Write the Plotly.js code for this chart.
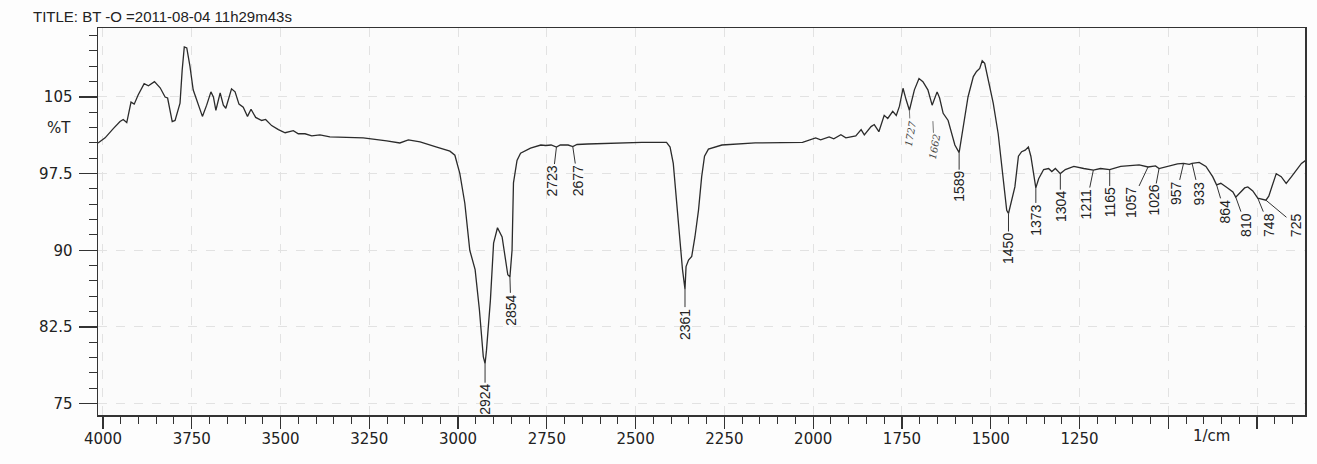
<!DOCTYPE html>
<html>
<head>
<meta charset="utf-8">
<script src="https://cdn.plot.ly/plotly-3.0.1.min.js"></script>
<style>
  html, body { margin: 0; padding: 0; background: #fdfdfd; }
  #chart { width: 1317px; height: 464px; }
</style>
</head>
<body>
<div id="chart"></div>
<script>
// ---- Data ----
const wavenumber = [
  4014, 3994, 3971, 3952, 3943, 3933, 3921, 3912, 3901, 3884, 3872, 3855, 3839, 3825, 3818,
  3805, 3797, 3783, 3777, 3771, 3764, 3755, 3746, 3736, 3720, 3708, 3696, 3689, 3682, 3670,
  3661, 3654, 3638, 3628, 3617, 3605, 3593, 3583, 3570, 3553, 3542, 3525, 3506, 3487, 3464,
  3450, 3431, 3412, 3389, 3361, 3314, 3267, 3201, 3164, 3140, 3107, 3060, 3023, 3009, 2995,
  2981, 2967, 2952, 2940, 2929, 2924, 2920, 2909, 2900, 2889, 2876, 2867, 2860, 2854, 2848,
  2844, 2834, 2824, 2796, 2767, 2753, 2738, 2723, 2712, 2690, 2677, 2665, 2635, 2539, 2483,
  2413, 2403, 2394, 2384, 2375, 2368, 2361, 2358, 2351, 2342, 2333, 2323, 2314, 2306, 2295,
  2257, 2163, 2097, 2030, 1993, 1979, 1955, 1942, 1922, 1908, 1880, 1865, 1856, 1837, 1828,
  1815, 1800, 1790, 1776, 1766, 1757, 1747, 1738, 1729, 1715, 1702, 1691, 1677, 1665, 1651,
  1644, 1634, 1620, 1601, 1589, 1578, 1564, 1549, 1540, 1531, 1524, 1517, 1507, 1493, 1479,
  1465, 1455, 1450, 1432, 1422, 1413, 1403, 1394, 1387, 1380, 1373, 1365, 1351, 1337, 1328,
  1318, 1304, 1290, 1266, 1238, 1211, 1191, 1165, 1134, 1106, 1082, 1057, 1036, 1026, 1002,
  974, 957, 941, 933, 913, 894, 875, 864, 852, 833, 818, 810, 785, 776, 762,
  748, 725, 717, 705, 696, 682, 668, 653, 625, 597
];
const transmittance = [
  100.5, 101.0, 101.9, 102.6, 102.8, 102.5, 104.5, 104.3, 105.2, 106.3, 106.1, 106.5, 105.9, 105.0, 104.9,
  102.6, 102.7, 104.4, 107.6, 109.9, 109.8, 108.0, 105.7, 104.7, 103.1, 104.2, 105.5, 105.0, 103.7, 105.4,
  104.2, 103.9, 105.8, 105.5, 104.3, 104.0, 103.1, 103.8, 103.0, 102.7, 102.8, 102.2, 101.8, 101.5, 101.7,
  101.4, 101.4, 101.2, 101.3, 101.1, 101.05, 101.0, 100.7, 100.5, 100.8, 100.6, 100.1, 99.7, 99.3, 97.5,
  94.6, 90.0, 88.1, 84.2, 79.6, 78.9, 80.2, 85.1, 90.7, 92.2, 91.3, 89.1, 87.6, 87.4, 90.0,
  96.6, 98.8, 99.5, 100.0, 100.3, 100.25, 100.3, 100.1, 100.3, 100.3, 100.15, 100.35, 100.4, 100.5, 100.55,
  100.55, 100.1, 98.5, 94.6, 90.4, 88.1, 86.2, 88.4, 89.05, 89.4, 91.3, 93.9, 97.2, 99.2, 99.9,
  100.3, 100.5, 100.5, 100.55, 101.0, 100.8, 101.1, 100.9, 101.3, 101.0, 101.2, 101.8, 101.3, 102.1, 102.3,
  101.6, 103.2, 102.9, 103.6, 103.2, 104.1, 105.85, 104.7, 103.7, 105.7, 106.8, 106.5, 105.7, 104.2, 105.5,
  104.9, 103.4, 102.7, 100.3, 99.55, 102.1, 105.0, 107.0, 107.5, 107.8, 108.55, 108.3, 106.7, 104.4, 101.4,
  96.9, 93.9, 93.6, 96.2, 99.2, 99.65, 99.8, 100.1, 99.2, 97.8, 96.1, 97.0, 97.9, 98.0, 97.7,
  98.0, 97.5, 97.9, 98.2, 98.0, 97.85, 98.0, 97.9, 98.2, 98.25, 98.35, 98.15, 98.25, 98.0, 98.2,
  98.45, 98.5, 98.4, 98.5, 98.6, 98.2, 97.2, 96.4, 96.55, 96.1, 95.7, 95.2, 96.1, 96.2, 95.8,
  95.1, 94.9, 95.3, 96.7, 97.5, 97.2, 96.55, 97.2, 98.5, 99.2
];

// Printed peak labels (cm^-1)
const peakLabels = [2924, 2854, 2723, 2677, 2361, 1589, 1450, 1373, 1304, 1211,
                    1165, 1057, 1026, 957, 933, 864, 810, 748, 725];
// Hand-written labels
const handLabels = ['1727', '1662'];
const handLabelPositions = [1729, 1665];

// Axis ticks
const xTickVals = [4000, 3750, 3500, 3250, 3000, 2750, 2500, 2250, 2000, 1750, 1500, 1250, 1000, 750];
const xTickText = ['4000', '3750', '3500', '3250', '3000', '2750', '2500', '2250', '2000', '1750', '1500', '1250', '', ''];
const yTickVals = [75, 82.5, 90, 97.5, 105];
const yTickText = ['75', '82.5', '90', '97.5', '105'];

const titleText = 'TITLE: BT -O =2011-08-04 11h29m43s';
const xUnit = '1/cm';
const yUnit = '%T';

// ---- Label layout (pixel offsets of the label text from its peak) ----
const labelOffsets = [
  [0, 36], [1, 33], [-4, 34], [5, 34], [0, 35], [0, 34], [0, 35], [0, 32], [0, 33], [-7, 34],
  [0, 33], [-17, 36], [-6, 32], [-7, 30], [7, 30], [8, 27], [10, 28], [11, 27], [30, 25]
];
const handOffsets = [[1, 23], [2, 42]];

function interpT(w) {
  for (let i = 0; i < wavenumber.length - 1; i++) {
    const a = wavenumber[i], b = wavenumber[i + 1];
    if ((w <= a && w >= b)) {
      const t = (a === b) ? 0 : (a - w) / (a - b);
      return transmittance[i] + t * (transmittance[i + 1] - transmittance[i]);
    }
  }
  return transmittance[transmittance.length - 1];
}

const labelFont = { family: 'Liberation Sans Narrow, Arial Narrow, Liberation Sans, Arial, sans-serif', size: 14, color: '#222' };
const tickFont = { family: 'DejaVu Sans, Verdana, sans-serif', size: 15, color: '#222' };

const annotations = peakLabels.map((w, i) => ({
  x: w, y: interpT(w), xref: 'x', yref: 'y',
  text: String(w), textangle: -90,
  showarrow: true, arrowhead: 0, arrowwidth: 1, arrowcolor: '#333',
  ax: labelOffsets[i][0], ay: labelOffsets[i][1],
  standoff: 0, borderpad: 1,
  font: labelFont
}));

handLabels.forEach((t, i) => {
  annotations.push({
    x: handLabelPositions[i], y: interpT(handLabelPositions[i]), xref: 'x', yref: 'y',
    text: t, textangle: -80,
    showarrow: true, arrowhead: 0, arrowwidth: 0.8, arrowcolor: '#555',
    standoff: i === 1 ? 16 : 0,
    ax: handOffsets[i][0], ay: handOffsets[i][1],
    font: { family: 'DejaVu Serif, serif', size: 10, color: '#444', style: 'italic' }
  });
});

annotations.push({
  xref: 'paper', yref: 'y', x: 0, y: 102, xanchor: 'right', yanchor: 'middle',
  xshift: -25, text: yUnit, showarrow: false, font: tickFont
});
annotations.push({
  xref: 'x', yref: 'paper', x: 877, y: 0, xanchor: 'center', yanchor: 'top',
  yshift: -10, text: xUnit, showarrow: false, font: tickFont
});

const trace = {
  x: wavenumber, y: transmittance, type: 'scatter', mode: 'lines',
  line: { color: '#2b2b2b', width: 1.3, shape: 'linear' },
  hoverinfo: 'x+y'
};

const layout = {
  width: 1317, height: 464,
  margin: { l: 98, r: 12, t: 28, b: 49 },
  paper_bgcolor: '#fdfdfd', plot_bgcolor: '#fbfbfb',
  showlegend: false,
  title: {
    text: titleText, xref: 'container', yref: 'container',
    x: 33 / 1317, xanchor: 'left', y: 1 - 17 / 464, yanchor: 'middle',
    font: { family: 'Liberation Sans, Arial, sans-serif', size: 15, color: '#222' }
  },
  xaxis: {
    range: [4014, 615], tickmode: 'array', tickvals: xTickVals, ticktext: xTickText,
    ticks: 'outside', ticklen: 12, tickwidth: 1.2, tickcolor: '#333', ticklabelstandoff: -3,
    showline: true, linecolor: '#333', linewidth: 1.5, mirror: true,
    showgrid: true, gridcolor: '#e2e2e2', griddash: 'dash', gridwidth: 1,
    zeroline: false, tickfont: tickFont,
    minor: { tickmode: 'linear', tick0: 0, dtick: 50, ticks: 'outside', ticklen: 7, tickwidth: 1, tickcolor: '#333', showgrid: false }
  },
  yaxis: {
    range: [73.88, 111.75], tickmode: 'array', tickvals: yTickVals, ticktext: yTickText,
    ticks: 'outside', ticklen: 18, tickwidth: 1.2, tickcolor: '#333', ticklabelstandoff: 3,
    showline: true, linecolor: '#333', linewidth: 1.5, mirror: true,
    showgrid: true, gridcolor: '#e2e2e2', griddash: 'dash', gridwidth: 1,
    zeroline: false, tickfont: tickFont,
    minor: { tickmode: 'linear', tick0: 75, dtick: 1.5, ticks: 'outside', ticklen: 8, tickwidth: 1, tickcolor: '#333', showgrid: false }
  },
  annotations: annotations
};

Plotly.newPlot('chart', [trace], layout, { displayModeBar: false, staticPlot: true });
</script>
</body>
</html>
